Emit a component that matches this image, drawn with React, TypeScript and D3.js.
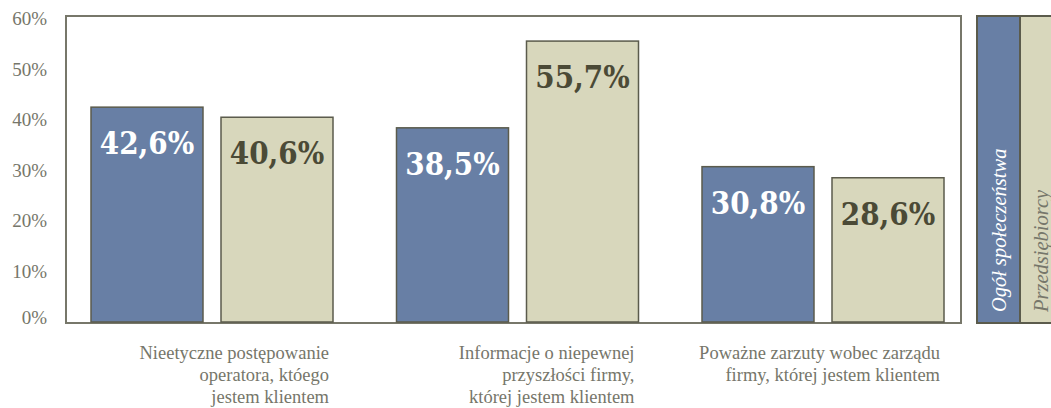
import React from "react";
import * as d3 from "d3";

const categories = [
  ["Nieetyczne postępowanie", "operatora, któego", "jestem klientem"],
  ["Informacje o niepewnej", "przyszłości firmy,", "której jestem klientem"],
  ["Poważne zarzuty wobec zarządu", "firmy, której jestem klientem"],
];
const seriesNames = ["Ogół społeczeństwa", "Przedsiębiorcy"];
const societyValues = [42.6, 38.5, 30.8];
const entrepreneurValues = [40.6, 55.7, 28.6];
const valueLabels = [
  ["42,6%", "40,6%"],
  ["38,5%", "55,7%"],
  ["30,8%", "28,6%"],
];
const yTicks = [0, 10, 20, 30, 40, 50, 60];

const W = 1051;
const H = 408;
const BLUE = "#687fa5";
const BEIGE = "#d8d7bc";
const FRAME = "#77776a";
const BAR_STROKE = "#5b5b4c";
const TEXT = "#76766a";
const DARK = "#4b4a36";
const SERIF = "'Liberation Serif', 'DejaVu Serif', serif";
const BOLD_SERIF = "'DejaVu Serif Condensed', 'DejaVu Serif', serif";

export default function App() {
  const y = d3.scaleLinear().domain([0, 60]).range([322, 19.4]);
  const x0 = d3
    .scaleBand<number>()
    .domain(categories.map((_, i) => i))
    .range([59.25, 975.75])
    .paddingInner(0)
    .paddingOuter(0);
  const x1 = d3
    .scaleBand<number>()
    .domain([0, 1])
    .range([-121, 121])
    .paddingInner(0.1385)
    .paddingOuter(0);
  const colors = [BLUE, BEIGE];
  const labelColors = ["#ffffff", DARK];
  const series = [societyValues, entrepreneurValues];

  return (
    <svg
      width={W}
      height={H}
      style={{ position: "absolute", left: 0, top: 0, background: "#fff" }}
      fontFamily={SERIF}
    >
      {/* plot frame */}
      <rect x={66} y={16} width={895} height={307} fill="none" stroke={FRAME} strokeWidth={2} />

      {/* y tick labels */}
      {yTicks.map((t) => (
        <text
          key={t}
          x={47}
          y={y(t) + (t === 0 ? 2 : 6)}
          textAnchor="end"
          fontSize={19}
          fill={TEXT}
        >
          {t}%
        </text>
      ))}

      {/* bars */}
      {categories.map((_, ci) => {
        const cx = (x0(ci) as number) + x0.bandwidth() / 2;
        return series.map((vals, si) => {
          const bx = cx + (x1(si) as number);
          const by = y(vals[ci]);
          return (
            <g key={`${ci}-${si}`}>
              <rect
                x={bx}
                y={by}
                width={x1.bandwidth()}
                height={y(0) - by}
                fill={colors[si]}
                stroke={BAR_STROKE}
                strokeWidth={1.5}
              />
              <text
                x={bx + x1.bandwidth() / 2}
                y={by + 47}
                textAnchor="middle"
                fontSize={31}
                fontWeight="bold"
                fontFamily={BOLD_SERIF}
                style={{ fontStretch: "condensed" }}
                fill={labelColors[si]}
              >
                {valueLabels[ci][si]}
              </text>
            </g>
          );
        });
      })}

      {/* category labels */}
      {categories.map((lines, ci) => {
        const cx = (x0(ci) as number) + x0.bandwidth() / 2;
        const right = cx + 121 - 4;
        return (
          <text key={ci} textAnchor="end" fontSize={18.5} fill={TEXT}>
            {lines.map((l, li) => (
              <tspan key={li} x={right} y={359 + li * 22}>
                {l}
              </tspan>
            ))}
          </text>
        );
      })}

      {/* legend */}
      <rect x={977} y={16} width={43} height={307} fill={BLUE} stroke={BAR_STROKE} strokeWidth={2} />
      <rect x={1020} y={16} width={40} height={307} fill={BEIGE} stroke={BAR_STROKE} strokeWidth={2} />
      <text
        transform="translate(1006,312) rotate(-90)"
        fontSize={20.5}
        fontStyle="italic"
        fill="#ffffff"
      >
        {seriesNames[0]}
      </text>
      <text
        transform="translate(1048,312) rotate(-90)"
        fontSize={20.5}
        fontStyle="italic"
        fill={TEXT}
      >
        {seriesNames[1]}
      </text>
    </svg>
  );
}
